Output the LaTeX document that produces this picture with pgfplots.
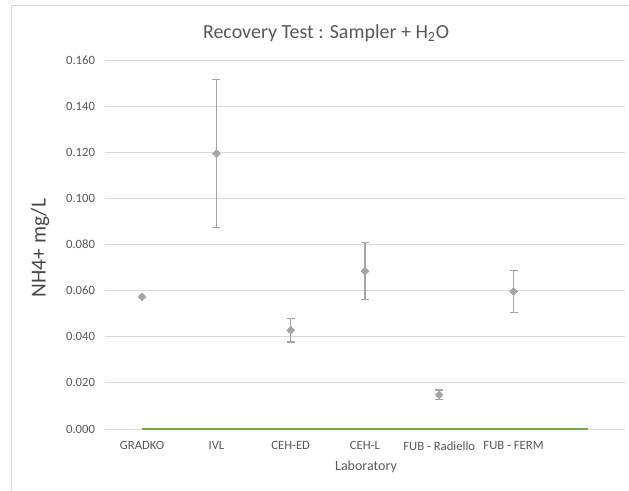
\documentclass[border=0pt]{standalone}
\usepackage{fontspec}
\setmainfont{Carlito}
\usepackage{pgfplots}
\pgfplotsset{compat=1.18}
\definecolor{gridgray}{HTML}{D9D9D9}
\definecolor{txtgray}{HTML}{595959}
\definecolor{markgray}{HTML}{A5A5A5}
\definecolor{linegreen}{HTML}{70AD47}

% mean and half-width of the error bar, per laboratory
\pgfplotstableread{
x   y       err
1   0.1194  0.0320
2   0.0428  0.0051
3   0.0684  0.0123
4   0.0148  0.0021
5   0.0596  0.0092
}\witherr
\pgfplotstableread{
x   y
0   0.0573
}\noerr
\pgfplotstableread{
x   y
0   0
1   0
2   0
3   0
4   0
5   0
6   0
}\zeroline

\begin{document}
\begin{tikzpicture}[x=0.75pt,y=0.75pt]
\useasboundingbox (0,0) rectangle (629,490);
% chart frame (left and top edges are visible)
\draw[gridgray,line width=0.75pt] (11,0) -- (11,484) -- (629,484);
\begin{axis}[
    at={(105*0.75pt,61*0.75pt)}, anchor=south west,
    scale only axis,
    width=520*0.75pt, height=369*0.75pt,
    xmin=-0.5, xmax=6.5,
    ymin=0, ymax=0.16,
    ytick={0,0.02,...,0.16},
    xtick={0,...,5},
    xticklabels={GRADKO, IVL, CEH-ED, CEH-L, FUB - Radiello, FUB - FERM},
    axis line style={draw=none},
    major tick length=0pt,
    ymajorgrids,
    grid style={gridgray,line width=0.75pt},
    tick label style={font=\fontsize{9.5}{11}\selectfont, text=txtgray},
    yticklabel style={/pgf/number format/fixed, /pgf/number format/zerofill,
        /pgf/number format/precision=3, xshift=-4pt},
    /pgf/number format/assume math mode=true,
    xticklabel style={yshift=-6pt},
    clip=false,
    mymark/.style={only marks, mark=square*, mark size=2.1pt,
        mark options={fill=markgray, draw=markgray, rotate=45}},
]
\addplot[linegreen, line width=2.2pt, no marks] table[x=x,y=y] {\zeroline};
\addplot[mymark,
    error bars/.cd, y dir=both, y explicit,
    error mark=|, error mark options={markgray, line width=0.9pt, mark size=3pt},
    error bar style={markgray, line width=1pt}]
    table[x=x, y=y, y error=err] {\witherr};
\addplot[mymark] table[x=x, y=y] {\noerr};
\end{axis}
\node[text=txtgray, font=\fontsize{15}{17}\selectfont] at (326,457) {Recovery Test : Sampler + H\textsubscript{2}O};
\node[text=txtgray, font=\fontsize{10.5}{12}\selectfont] at (366,23) {Laboratory};
\node[text=txtgray!80!black, font=\fontsize{16}{18}\selectfont, rotate=90] at (40,242) {NH4+ mg/L};
\end{tikzpicture}
\end{document}
